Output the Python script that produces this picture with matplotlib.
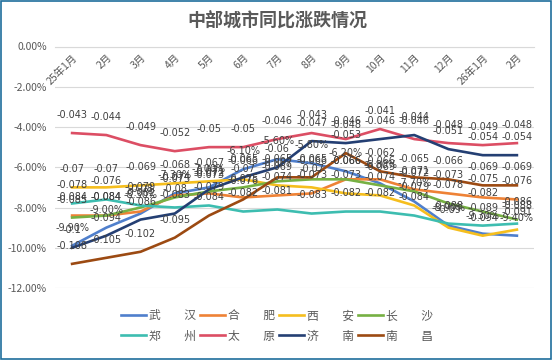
import matplotlib
matplotlib.use('Agg')
import matplotlib.pyplot as plt
from matplotlib.patches import Rectangle
from matplotlib.ticker import FuncFormatter
import numpy as np

plt.rcParams['font.family'] = ['Noto Sans CJK SC', 'DejaVu Sans']
plt.rcParams['axes.unicode_minus'] = False

# 月份
months = ['25年1月', '2月', '3月', '4月', '5月', '6月', '7月', '8月', '9月',
          '10月', '11月', '12月', '26年1月', '2月']

# 各城市同比（小数）
wuhan = [-0.099, -0.090, -0.083, -0.073, -0.070, -0.061, -0.056, -0.058, -0.062,
         -0.068, -0.077, -0.089, -0.093, -0.094]
hefei = [-0.084, -0.084, -0.082, -0.074, -0.073, -0.075, -0.074, -0.073, -0.066,
         -0.066, -0.071, -0.073, -0.075, -0.076]
xian = [-0.070, -0.070, -0.069, -0.068, -0.067, -0.066, -0.069, -0.070, -0.073,
        -0.074, -0.079, -0.090, -0.094, -0.091]
changsha = [-0.085, -0.084, -0.080, -0.075, -0.072, -0.070, -0.067, -0.066, -0.066,
            -0.069, -0.072, -0.078, -0.082, -0.086]
zhengzhou = [-0.078, -0.076, -0.079, -0.080, -0.079, -0.082, -0.081, -0.083, -0.082,
             -0.082, -0.084, -0.088, -0.089, -0.088]
taiyuan = [-0.043, -0.044, -0.049, -0.052, -0.050, -0.050, -0.046, -0.043, -0.046,
           -0.041, -0.046, -0.048, -0.049, -0.048]
jinan = [-0.100, -0.094, -0.086, -0.083, -0.071, -0.065, -0.060, -0.047, -0.048,
         -0.046, -0.044, -0.051, -0.054, -0.054]
nanchang = [-0.108, -0.105, -0.102, -0.095, -0.084, -0.076, -0.065, -0.065, -0.053,
            -0.062, -0.065, -0.066, -0.069, -0.069]

names = ['武\u3000\u3000汉', '合\u3000\u3000肥', '西\u3000\u3000安', '长\u3000\u3000沙',
         '郑\u3000\u3000州', '太\u3000\u3000原', '济\u3000\u3000南', '南\u3000\u3000昌']
series = [wuhan, hefei, xian, changsha, zhengzhou, taiyuan, jinan, nanchang]
colors = ['#4F7FCC', '#EE8236', '#F5BE1E', '#76B043', '#3DBDB0', '#DC4E64', '#243F73', '#9C4A12']
pct_label = [True, False, False, False, False, False, False, False]

fig = plt.figure(figsize=(5.54, 3.62), dpi=100)
ax = fig.add_axes([55/554, 1-288/362, (534-55)/554, (288-46.5)/362])

x = np.arange(len(months))
lines = []
for vals, name, c, pct in zip(series, names, colors, pct_label):
    ln, = ax.plot(x, vals, color=c, lw=1.9, label=name, solid_joinstyle='round')
    lines.append(ln)
    for xi, v in zip(x, vals):
        s = '%.2f%%' % (v*100) if pct else '%g' % v
        ax.annotate(s, (xi, v), xytext=(0, 13), textcoords='offset points',
                    ha='center', va='center', fontsize=7, color='#404040',
                    family='DejaVu Sans')

ax.set_xlim(-0.5, len(months)-0.5)
ax.set_ylim(-0.12, 0)
ax.set_yticks(np.arange(-0.12, 0.001, 0.02))
ax.yaxis.set_major_formatter(FuncFormatter(lambda v, p: '%.2f%%' % (v*100) if abs(v) > 1e-9 else '0.00%'))
ax.grid(axis='y', color='#D9D9D9', lw=0.8)
ax.set_axisbelow(True)
for s in ['top', 'right', 'left']:
    ax.spines[s].set_visible(False)
ax.spines['bottom'].set_position(('data', 0))
ax.spines['bottom'].set_color('#D9D9D9')
ax.set_xticks(x)
ax.set_xticklabels(months, rotation=45, ha='right', rotation_mode='anchor')
ax.tick_params(axis='x', length=0, pad=4, labelsize=7.5, labelcolor='#595959')
ax.tick_params(axis='y', length=0, pad=6, labelsize=7.5, labelcolor='#595959')

fig.suptitle('中部城市同比涨跌情况', x=0.5, y=1-20/362, va='center',
             fontsize=13, fontweight='bold', color='#595959')

# 图例按行排列
order = [0, 4, 1, 5, 2, 6, 3, 7]
fig.legend([lines[i] for i in order], [names[i] for i in order],
           loc='center', bbox_to_anchor=(0.5, 1-326/362), ncol=4, frameon=False,
           fontsize=8.5, handlelength=2.1, handletextpad=0.25, columnspacing=0.35,
           labelspacing=0.6, labelcolor='#595959')

fig.patches.append(Rectangle((0.5/554, 1-358.5/362), 550/554, 358/362, transform=fig.transFigure,
                             fill=False, edgecolor='#1F6E9C', lw=1.2))

fig.savefig('out.png', dpi=100)
